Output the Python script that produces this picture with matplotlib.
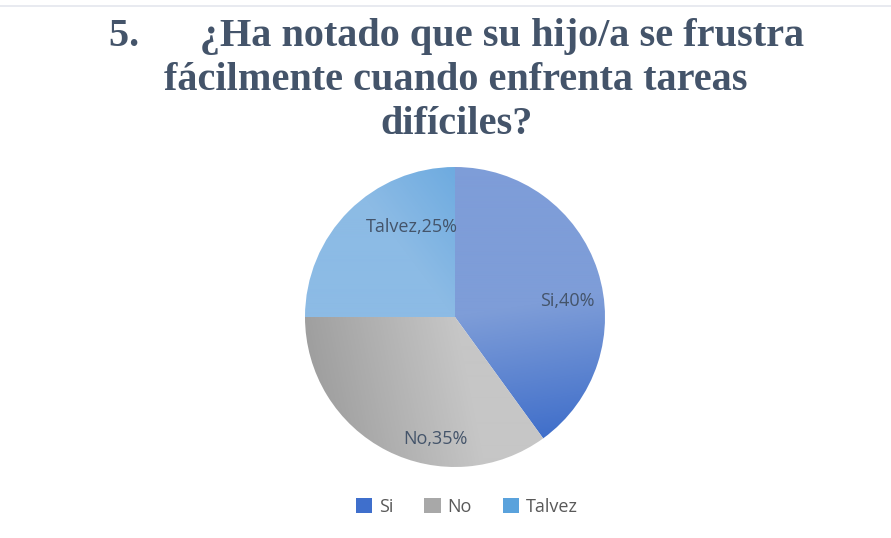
import numpy as np
import matplotlib.pyplot as plt
from matplotlib.colors import LinearSegmentedColormap
from matplotlib.patches import Rectangle

categories = ["Si", "No", "Talvez"]
values = [40, 35, 25]
title = "5.      ¿Ha notado que su hijo/a se frustra\nfácilmente cuando enfrenta tareas\ndifíciles?"

# gradient ends per slice (light, dark) and gradient direction
grad_colors = [("#7e9dd8", "#2f62c6"), ("#c6c6c6", "#989898"), ("#8cbbe5", "#4595d9")]
grad_dirs = [(0.15, -1), (-1, -0.2), (0.8, 0.6)]
legend_colors = ["#3f6fcc", "#a8a8a8", "#5aa2dc"]
label_pos = [(0.75, 0.11), (-0.13, -0.81), (-0.29, 0.60)]

fig = plt.figure(figsize=(8.91, 5.38), dpi=100)
fig.patch.set_facecolor("white")

W, H = 891, 538
ax = fig.add_axes([305 / W, (538 - 467) / H, 300 / W, 300 / H])
wedges, _ = ax.pie(values, startangle=90, counterclock=False, radius=1,
                   colors=["none"] * 3, wedgeprops=dict(linewidth=0))
ax.set_xlim(-1, 1)
ax.set_ylim(-1, 1)
ax.set_aspect("equal")
ax.axis("off")

xx, yy = np.meshgrid(np.linspace(-1, 1, 300), np.linspace(-1, 1, 300))
for w, (c1, c2), (dx, dy) in zip(wedges, grad_colors, grad_dirs):
    t = xx * dx + yy * dy
    t = (t - t.min()) / (t.max() - t.min())
    cmap = LinearSegmentedColormap.from_list("g", [c1, c1, c2])
    im = ax.imshow(t, extent=[-1, 1, -1, 1], origin="lower", cmap=cmap,
                   zorder=1, interpolation="bilinear")
    im.set_clip_path(w)

for cat, v, (px, py) in zip(categories, values, label_pos):
    ax.text(px, py, f"{cat},{v}%", ha="center", va="center", fontsize=13,
            color="#44546a", family="Open Sans", zorder=3)

fig.text(0.512, 0.966, title, ha="center", va="top", fontsize=29,
         fontweight="bold", family="Liberation Serif", color="#44546a",
         linespacing=1.24)

# top border line
fig.add_artist(plt.Line2D([0, 1], [1 - 6 / H, 1 - 6 / H], color="#e4e6ee", lw=1.2))

handles = [Rectangle((0, 0), 1, 1, facecolor=c, edgecolor="none") for c in legend_colors]
fig.legend(handles, categories, loc="center", bbox_to_anchor=(467 / W, 1 - 507 / H),
           ncol=3, frameon=False, handlelength=0.9, handleheight=0.9,
           handletextpad=0.4, columnspacing=1.7,
           prop=dict(family="Open Sans", size=13), labelcolor="#595959")

fig.savefig("out.png", dpi=100)
